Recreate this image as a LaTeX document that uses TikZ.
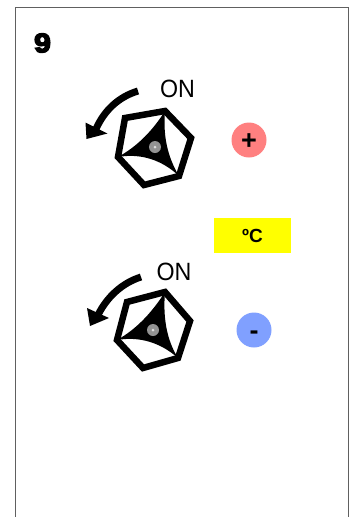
\documentclass[tikz,border=0pt]{standalone}
\usepackage{fontspec}
\setmainfont{Liberation Sans}
\newfontfamily\heavyfont[FakeBold=5]{Liberation Sans Bold}
\definecolor{plusred}{HTML}{FF8080}
\definecolor{minusblue}{HTML}{80A0FF}
\definecolor{framegray}{HTML}{606060}
\definecolor{unityellow}{HTML}{FFFF00}
\tikzset{
 hexline/.style={draw=black,line width=6.5pt,line join=miter,fill=white},
 turnline/.style={draw=black,line width=7pt},
 hub/.style={circle,fill=gray!85,minimum size=12pt,inner sep=0pt},
 hubdot/.style={circle,fill=gray!25,minimum size=3pt,inner sep=0pt},
 onlabel/.style={font=\fontsize{25}{25}\selectfont,inner sep=0pt,xscale=0.93},
 roundbutton/.style={circle,minimum size=35pt,inner sep=0pt,text height=18pt,text depth=0pt,font=\fontsize{27}{27}\selectfont\bfseries},
}
\begin{document}
\begin{tikzpicture}[x=1pt,y=-1pt]
 \useasboundingbox (0,0) rectangle (353,517);
 \draw[framegray,line width=1pt](15,517)--(15,7)--(348,7)--(348,517);
 \node[inner sep=0pt,xscale=1.12,font=\fontsize{27}{27}\heavyfont] (number) at (42.5,43) {9};
 \draw[hexline](125,118)--(165,111)--(191,138)--(179,176)--(144,185)--(118,157)--cycle;
 \fill[black](165,111) .. controls (153,130) and (138,146) .. (118,157) .. controls (141,153) and (162,160) .. (179,176) .. controls (167,156) and (163,135) .. (165,111)--cycle;
 \node[hub] (hubtop) at (155,147) {};
 \node[hubdot] (dottop) at (hubtop) {};
 \draw[turnline](138,91) .. controls (118,97) and (104,111) .. (96,129);
 \fill[black](85.5,122.5)--(107.5,133.5)--(86.5,139)--cycle;
 \node[onlabel] (ontop) at (177.5,89) {ON};
 \draw[hexline](127,302)--(165,292)--(190,321)--(178,358)--(143,368)--(117,340)--cycle;
 \fill[black](165,292) .. controls (153,311) and (137,329) .. (117,340) .. controls (140,336) and (161,343) .. (178,358) .. controls (166,339) and (163,316) .. (165,292)--cycle;
 \node[hub] (hubbottom) at (153,330) {};
 \node[hubdot] (dotbottom) at (hubbottom) {};
 \draw[turnline](141,277) .. controls (122,283) and (107,297) .. (98,315);
 \fill[black](87,308)--(109,318)--(90,326)--cycle;
 \node[onlabel] (onbottom) at (174,272) {ON};
 \node[roundbutton,fill=plusred] (plus) at (249,140) {+};
 \node[roundbutton,fill=minusblue] (minus) at (254,330) {-};
 \node[fill=unityellow,minimum width=77pt,minimum height=35pt,inner sep=0pt,font=\fontsize{19}{19}\selectfont\bfseries] (unit) at (252.5,235.5) {ºC};
\end{tikzpicture}
\end{document}
